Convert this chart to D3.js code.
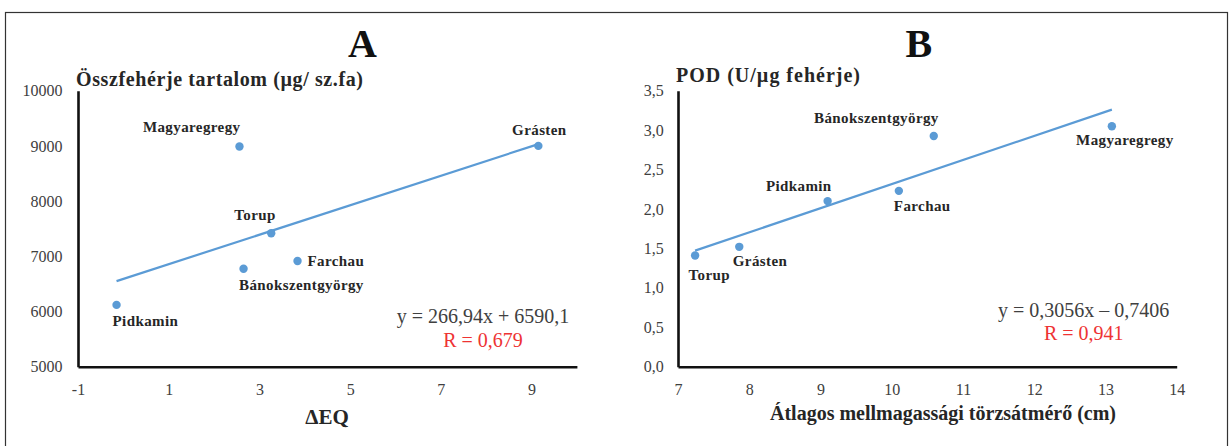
<!DOCTYPE html>
<html>
<head>
<meta charset="utf-8">
<script src="https://cdn.jsdelivr.net/npm/d3@7"></script>
<style>
  html, body { margin: 0; padding: 0; background: #fff; }
  svg { display: block; }
  svg text { font-family: "Liberation Serif", "Times New Roman", serif !important; }
</style>
</head>
<body>
<svg id="chart" width="1230" height="446" font-family="Liberation Serif, serif"></svg>
<script>
// ---- Panel A: total protein content vs ΔEQ ----
const aSites   = ["Pidkamin", "Bánokszentgyörgy", "Torup", "Farchau", "Magyaregregy", "Grásten"];
const aDeltaEQ = [-0.15, 2.65, 3.26, 3.84, 2.56, 9.15];
const aProtein = [6120, 6775, 7417, 6915, 8990, 9000];
const aXTicks  = [-1, 1, 3, 5, 7, 9];
const aYTicks  = [5000, 6000, 7000, 8000, 9000, 10000];
const aSlope = 266.94, aIntercept = 6590.1, aR = 0.679;

// ---- Panel B: POD activity vs mean diameter at breast height ----
const bSites    = ["Torup", "Grásten", "Pidkamin", "Farchau", "Bánokszentgyörgy", "Magyaregregy"];
const bDiameter = [7.24, 7.86, 9.10, 10.10, 10.59, 13.09];
const bPOD      = [1.41, 1.52, 2.10, 2.23, 2.925, 3.05];
const bXTicks   = [7, 8, 9, 10, 11, 12, 13, 14];
const bYTicks   = [0, 0.5, 1, 1.5, 2, 2.5, 3, 3.5];
const bSlope = 0.3056, bIntercept = -0.7406, bR = 0.941;

// Label placement around each dot: [anchor, dx, dy]
const aLabelPos = {
  "Pidkamin":         ["start", -4, 21],
  "Bánokszentgyörgy": ["start", -4.5, 21.5],
  "Torup":            ["end", 4.5, -13.5],
  "Farchau":          ["start", 10, 5],
  "Magyaregregy":     ["end", 1, -14],
  "Grásten":          ["middle", 1, -11]
};
const bLabelPos = {
  "Torup":            ["start", -6.5, 24.5],
  "Grásten":          ["start", -6.5, 19.5],
  "Pidkamin":         ["end", 4, -10.5],
  "Farchau":          ["start", -5, 20],
  "Bánokszentgyörgy": ["end", 5, -13.5],
  "Magyaregregy":     ["middle", 13, 19]
};

const dec = v => String(Math.abs(v)).replace(".", ",");
const svg = d3.select("#chart");

const DOT = "#5b9bd5";
const INK = "#262626";

// outer frame
svg.append("rect")
  .attr("x", 5.5).attr("y", 12.5)
  .attr("width", 1222).attr("height", 500)
  .attr("fill", "none").attr("stroke", "#333").attr("stroke-width", 1.2);

function panel(cfg) {
  const g = svg.append("g");
  const x = d3.scaleLinear().domain(cfg.xDomain).range(cfg.xRange);
  const y = d3.scaleLinear().domain(cfg.yDomain).range([366.7, 90.7]);

  // y axis
  const ya = g.append("g")
    .attr("transform", `translate(${cfg.xRange[0]},0)`)
    .call(d3.axisLeft(y).tickValues(cfg.yTicks).tickSize(0).tickSizeOuter(0)
      .tickPadding(cfg.yPad).tickFormat(cfg.yFmt));
  // x axis
  const xa = g.append("g")
    .attr("transform", `translate(0,${y(cfg.yDomain[0])})`)
    .call(d3.axisBottom(x).tickValues(cfg.xTicks).tickSize(0).tickSizeOuter(0)
      .tickPadding(16.5).tickFormat(d => String(d)));
  [ya, xa].forEach(a => {
    a.attr("font-family", null).attr("font-size", null);
    a.select(".domain").attr("stroke", "#111").attr("stroke-width", 2.6);
    a.selectAll("text")
      .attr("fill", "#404040")
      .style("font-size", "16px");
  });

  // trend line
  const ext = d3.extent(cfg.xs);
  const line = d3.line().x(d => x(d)).y(d => y(cfg.slope * d + cfg.intercept));
  g.append("path").datum(ext)
    .attr("d", line)
    .attr("fill", "none").attr("stroke", DOT).attr("stroke-width", 2.2);

  // points
  const pts = cfg.sites.map((s, i) => ({ s, vx: cfg.xs[i], vy: cfg.ys[i] }));
  g.selectAll("circle.pt").data(pts).join("circle")
    .attr("class", "pt")
    .attr("cx", d => x(d.vx)).attr("cy", d => y(d.vy)).attr("r", 4.2)
    .attr("fill", DOT);

  // point labels
  g.selectAll("text.lbl").data(pts).join("text")
    .attr("class", "lbl")
    .attr("x", d => x(d.vx) + cfg.labels[d.s][1])
    .attr("y", d => y(d.vy) + cfg.labels[d.s][2])
    .attr("text-anchor", d => cfg.labels[d.s][0])
    .attr("fill", INK)
    .style("font-size", "15px").style("font-weight", "bold")
    .style("letter-spacing", "0.4px")
    .text(d => d.s);

  // panel letter
  g.append("text")
    .attr("x", cfg.letterX).attr("y", 57)
    .attr("text-anchor", "middle").attr("fill", "#111")
    .style("font-size", "40px").style("font-weight", "bold")
    .text(cfg.letter);

  // y title
  g.append("text")
    .attr("x", cfg.yTitleX).attr("y", cfg.yTitleY)
    .attr("fill", INK)
    .attr("textLength", cfg.yTitleLen).attr("lengthAdjust", "spacing")
    .style("font-size", "20px").style("font-weight", "bold")
    .text(cfg.yTitle);

  // x title
  g.append("text")
    .attr("x", cfg.xTitleX).attr("y", cfg.xTitleY)
    .attr("text-anchor", "middle").attr("fill", INK)
    .style("font-size", cfg.xTitleSize).style("font-weight", "bold")
    .text(cfg.xTitle);

  // regression equation and R
  const sign = cfg.intercept < 0 ? "–" : "+";
  g.append("text")
    .attr("x", cfg.eqX).attr("y", cfg.eqY)
    .attr("text-anchor", "middle").attr("fill", "#404040")
    .style("font-size", "20px")
    .text(`y = ${dec(cfg.slope)}x ${sign} ${dec(cfg.intercept)}`);
  g.append("text")
    .attr("x", cfg.eqX).attr("y", cfg.eqY + 23.5)
    .attr("text-anchor", "middle").attr("fill", "#ee3333")
    .style("font-size", "20px")
    .text(`R = ${dec(cfg.r)}`);
}

panel({
  sites: aSites, xs: aDeltaEQ, ys: aProtein,
  xDomain: [-1, 10], xRange: [78, 576.9],
  yDomain: [5000, 10000], yTicks: aYTicks, xTicks: aXTicks,
  yPad: 15.5, yFmt: d => String(d),
  slope: aSlope, intercept: aIntercept, r: aR,
  labels: aLabelPos,
  letter: "A", letterX: 362.5,
  yTitle: "Összfehérje tartalom (µg/ sz.fa)", yTitleX: 76, yTitleY: 86, yTitleLen: 287,
  xTitle: "ΔEQ", xTitleX: 327, xTitleY: 424, xTitleSize: "21px",
  eqX: 483, eqY: 323
});

panel({
  sites: bSites, xs: bDiameter, ys: bPOD,
  xDomain: [7, 14], xRange: [678, 1176.7],
  yDomain: [0, 3.5], yTicks: bYTicks, xTicks: bXTicks,
  yPad: 14.3, yFmt: d => d.toFixed(1).replace(".", ","),
  slope: bSlope, intercept: bIntercept, r: bR,
  labels: bLabelPos,
  letter: "B", letterX: 918.8,
  yTitle: "POD (U/µg fehérje)", yTitleX: 676, yTitleY: 82, yTitleLen: 184,
  xTitle: "Átlagos mellmagassági törzsátmérő (cm)", xTitleX: 943, xTitleY: 419.5, xTitleSize: "20px",
  eqX: 1083.7, eqY: 316.5
});
</script>
</body>
</html>
